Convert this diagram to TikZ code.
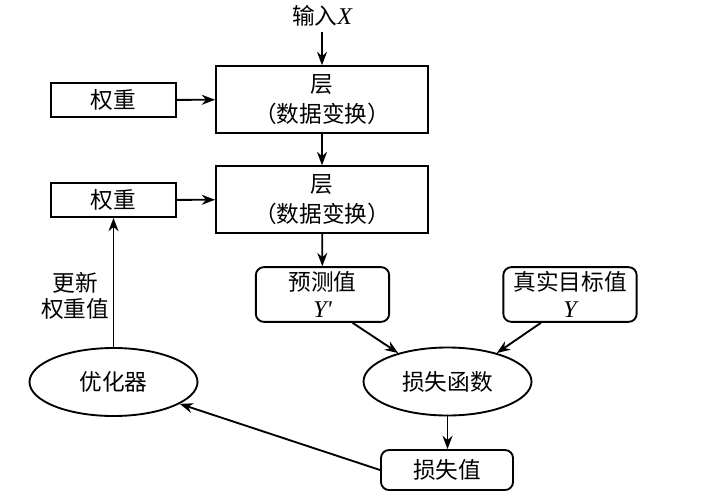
\documentclass[tikz,border=0pt]{standalone}
\usepackage{fontspec}
\setmainfont{Noto Sans CJK SC}
\newfontfamily\latinit{Liberation Serif}
\usetikzlibrary{arrows.meta,shapes.geometric,calc}
\tikzset{
  base/.style={draw, line width=1.4pt, font=\fontsize{17}{22}\selectfont, align=center, inner sep=0pt},
  layerbox/.style={base, minimum width=159pt, minimum height=50pt},
  weightbox/.style={base, minimum width=94pt, minimum height=25.5pt},
  roundbox/.style={base, rounded corners=6pt, minimum width=100pt, minimum height=41pt, font=\fontsize{17}{20}\selectfont},
  ellnode/.style={base, ellipse, minimum width=126pt, minimum height=51pt},
  lbl/.style={font=\fontsize{17}{20}\selectfont, align=center, inner sep=0pt},
  arr/.style={line width=1.4pt, -{Stealth[length=10pt,width=7.5pt]}}
}
\newcommand{\itx}[1]{{\latinit\itshape\fontsize{18}{20}\selectfont #1}}
\begin{document}
\begin{tikzpicture}[x=0.75pt,y=-0.75pt]
\useasboundingbox (0,0) rectangle (709,500);
\node[lbl] (in) at (322,16) {输入\itx{X}};
\node[layerbox] (l1) at (322,99.5) {层\\（数据变换）};
\node[layerbox] (l2) at (322,199.5) {层\\（数据变换）};
\node[weightbox] (w1) at (113.5,100) {权重};
\node[weightbox] (w2) at (113.5,200) {权重};
\node[roundbox] (pred) at (322.5,294.5) {预测值\\\itx{Y'}};
\node[roundbox] (target) at (570,294.5) {真实目标值\\\itx{Y}};
\node[ellnode] (lossfn) at (447.5,381.5) {损失函数};
\node[ellnode] (opt) at (113.5,382) {优化器};
\node[roundbox, minimum width=99pt, minimum height=30pt] (lossval) at (447,470) {损失值};
\node[lbl] (upd) at (75,296) {更新\\权重值};
\draw[arr, shorten <=4pt] (in) -- (l1);
\draw[arr] (l1) -- (l2);
\draw[arr] (w1) -- (l1);
\draw[arr] (w2) -- (l2);
\draw[arr] (l2) -- (pred);
\draw[arr] ([xshift=22.5pt]pred.south) -- (lossfn.150);
\draw[arr] ([xshift=-21.75pt]target.south) -- (lossfn.30);
\draw[arr] (lossfn) -- (lossfn |- lossval.north);
\draw[arr] (lossval.west) -- (opt);
\draw[arr] (opt) -- (w2);
\end{tikzpicture}
\end{document}
